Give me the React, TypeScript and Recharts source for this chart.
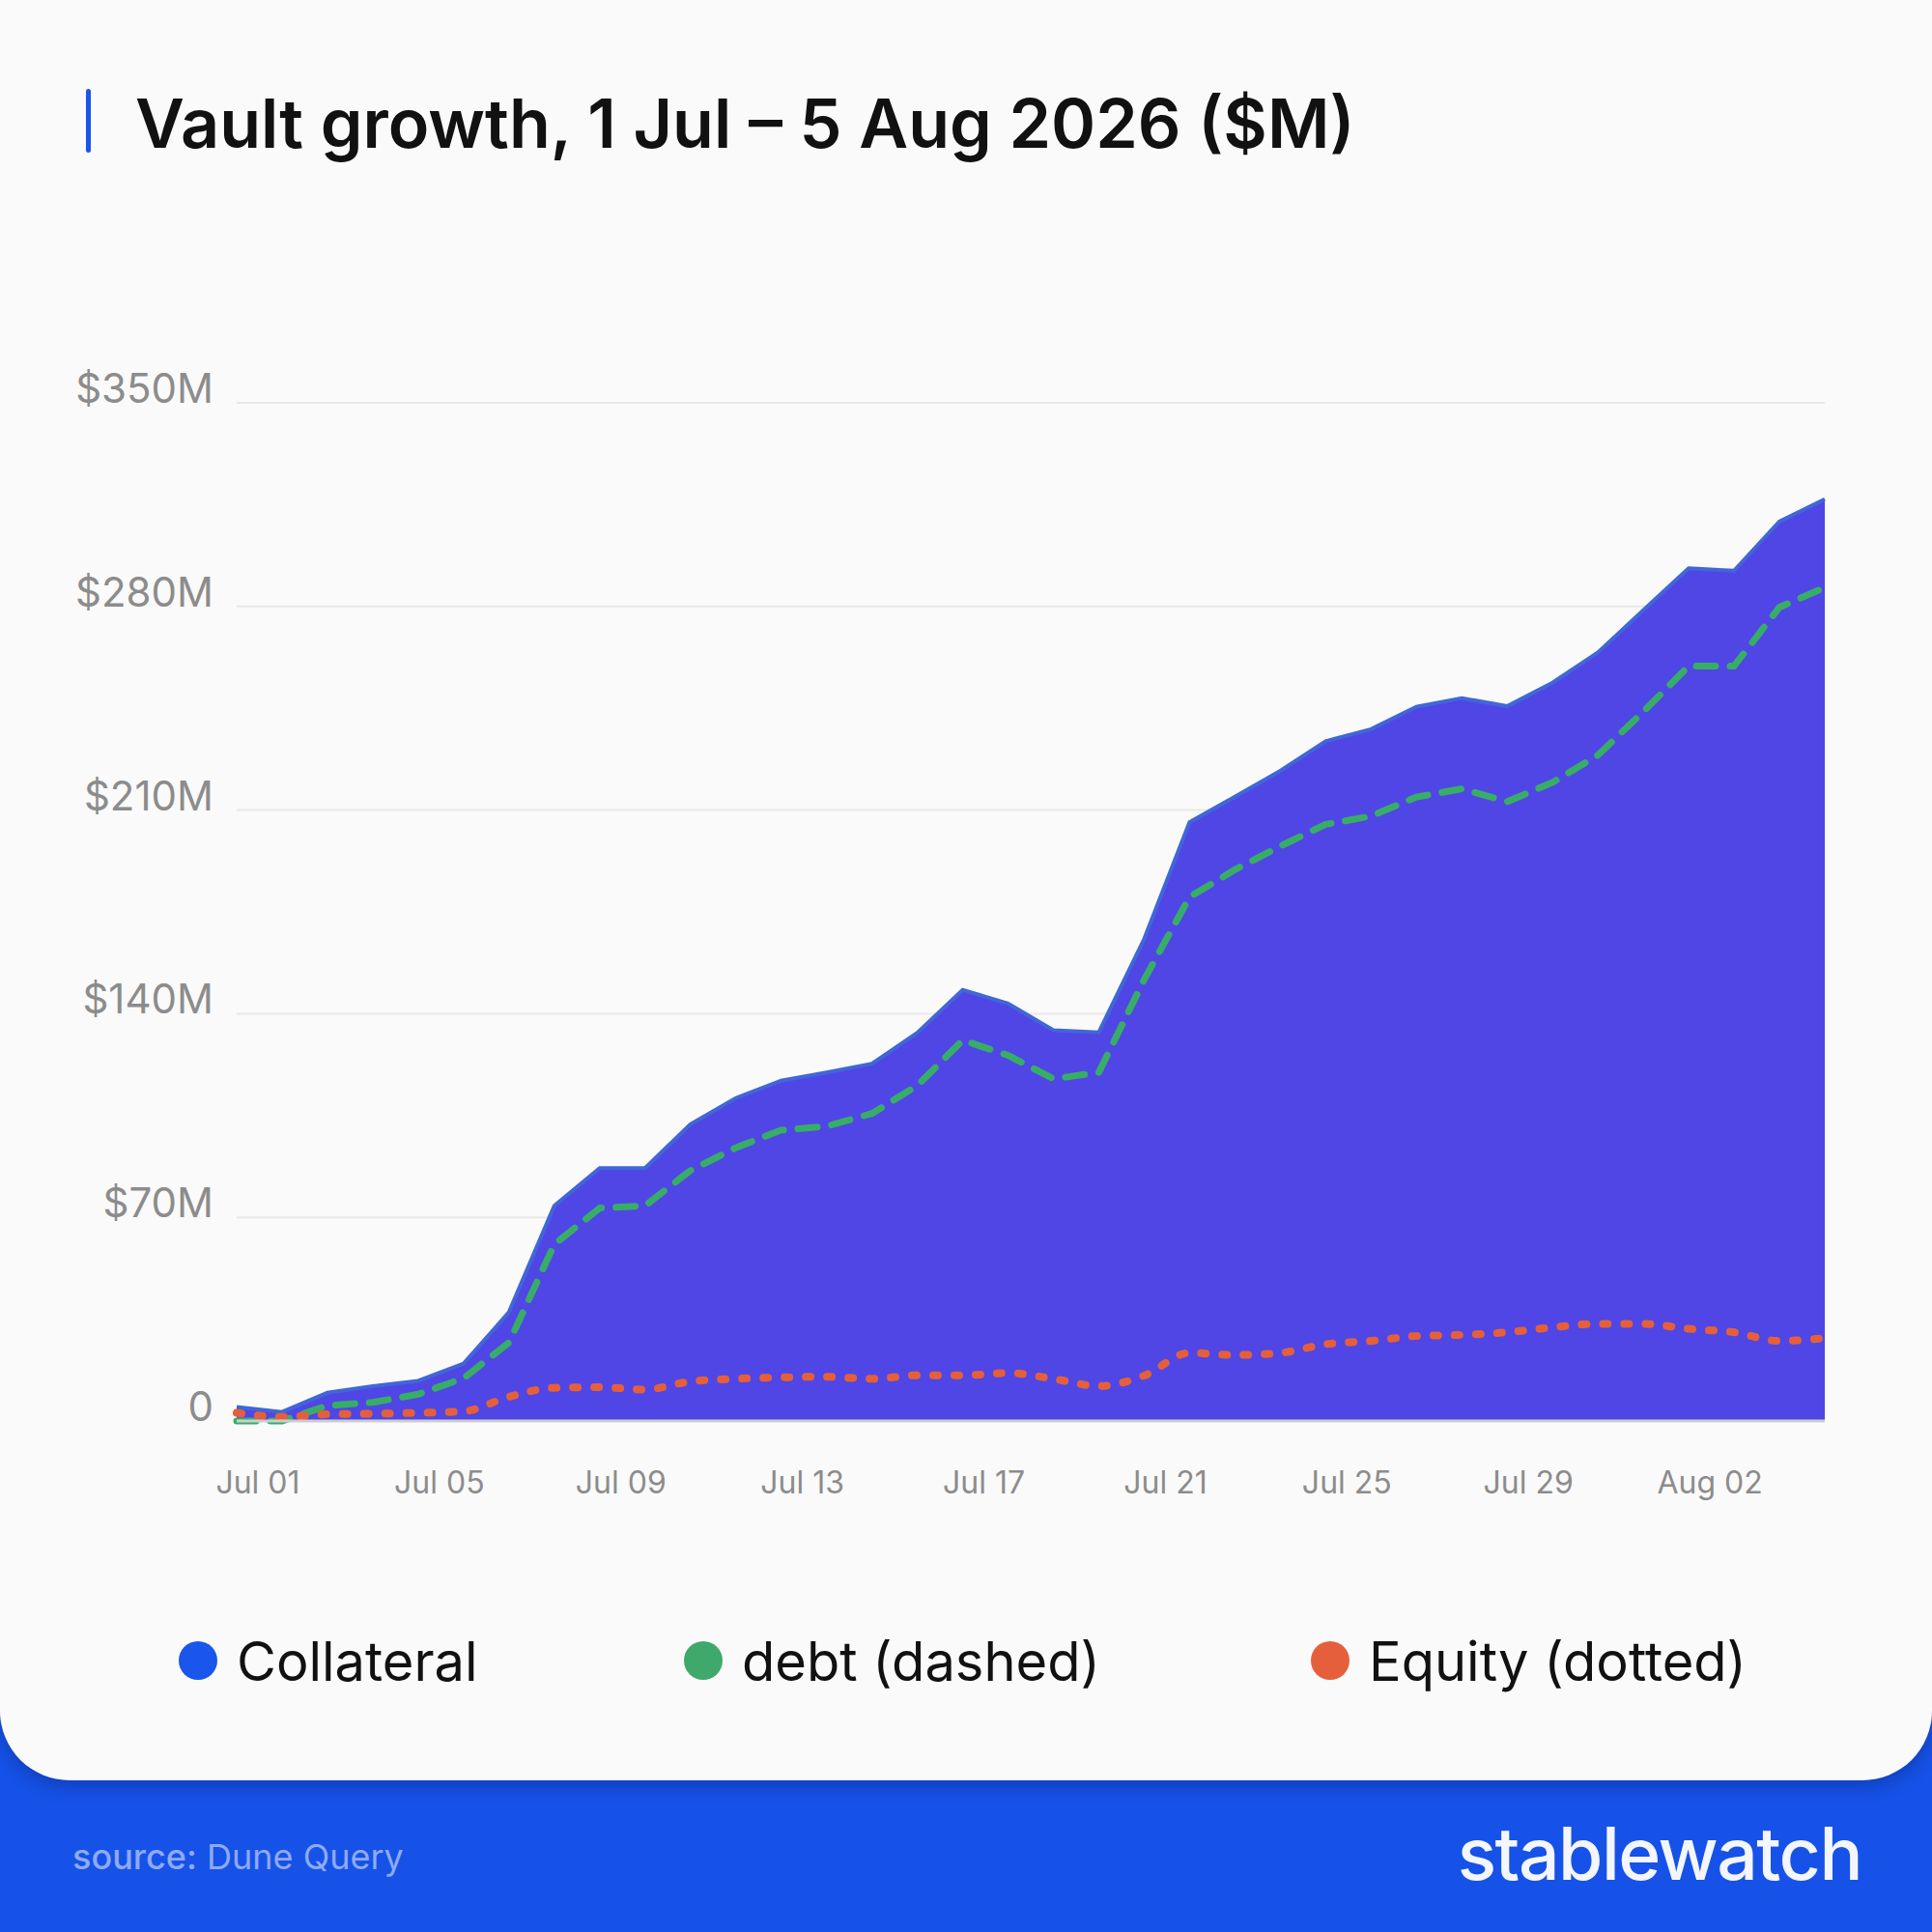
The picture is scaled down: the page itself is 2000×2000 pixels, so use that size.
import React from 'react';
import { ComposedChart, Area, Line, XAxis, YAxis, CartesianGrid } from 'recharts';

const dates = [
  'Jul 01','Jul 02','Jul 03','Jul 04','Jul 05','Jul 06','Jul 07','Jul 08','Jul 09','Jul 10',
  'Jul 11','Jul 12','Jul 13','Jul 14','Jul 15','Jul 16','Jul 17','Jul 18','Jul 19','Jul 20',
  'Jul 21','Jul 22','Jul 23','Jul 24','Jul 25','Jul 26','Jul 27','Jul 28','Jul 29','Jul 30',
  'Jul 31','Aug 01','Aug 02','Aug 03','Aug 04','Aug 05',
];

const collateral = [
  4.8, 3.1, 9.7, 12, 13.8, 19.7, 37.4, 74, 86.9, 86.9,
  102, 111, 117, 119.8, 122.8, 133.4, 148.2, 143.5, 134.3, 133.6,
  165.7, 205.8, 214.6, 223.5, 233.7, 237.8, 245.5, 248.5, 245.7, 253.8,
  264.2, 278.7, 293.1, 292.3, 309.2, 316.9,
];

const debt = [
  0, 0, 5.3, 6.4, 9.2, 14.7, 26.9, 60.7, 73.2, 74,
  86.1, 93.9, 100, 101.3, 105.7, 115.3, 130.9, 125.7, 117.6, 119.8,
  151.7, 180.1, 189.5, 197.6, 205.1, 207.9, 214.5, 217.3, 212.9, 219.5,
  228.9, 243.8, 259.5, 259.5, 279.7, 286.5,
];

const equity = [
  2.8, 1.4, 2.3, 2.5, 2.8, 3.3, 8.3, 11.4, 11.6, 10.8,
  13.6, 14.5, 15, 15.2, 14.5, 15.7, 15.7, 16.5, 14.5, 12,
  15.6, 23.4, 22.7, 23.4, 26.4, 27.5, 29.2, 29.6, 30.5, 32.2,
  33.4, 33.4, 31.7, 30.5, 27.5, 28.5,
];

const xTicks = ['Jul 01','Jul 05','Jul 09','Jul 13','Jul 17','Jul 21','Jul 25','Jul 29','Aug 02'];
const yTicks = [0, 70, 140, 210, 280, 350];
const yTickLabels = ['0', '$70M', '$140M', '$210M', '$280M', '$350M'];

const seriesNames = ['Collateral', 'debt (dashed)', 'Equity (dotted)'];
const seriesColors = ['#1a56ec', '#3fa96b', '#e5603a'];

const data = dates.map((d, i) => ({
  date: d,
  collateral: collateral[i],
  debt: debt[i],
  equity: equity[i],
}));

const FONT = 'Inter, "Noto Sans", sans-serif';

const YTick = (props: any) => {
  const { x, y, payload } = props;
  const idx = yTicks.indexOf(payload.value);
  return (
    <text x={x} y={y} textAnchor="end" fill="#8c8c8c" fontSize={42} fontFamily={FONT}>
      {idx >= 0 ? yTickLabels[idx] : payload.value}
    </text>
  );
};

const XTick = (props: any) => {
  const { x, y, payload } = props;
  return (
    <text x={x + 22} y={y + 75} textAnchor="middle" fill="#8c8c8c" fontSize={32} fontFamily={FONT}>
      {payload.value}
    </text>
  );
};

export default function App() {
  const legendX = [205, 728, 1377];
  return (
    <div style={{ position: 'absolute', left: 0, top: 0, width: 2000, height: 2000, background: '#1652e8', overflow: 'hidden', fontFamily: FONT }}>
      <div style={{ position: 'absolute', left: 0, top: 0, width: 2000, height: 1843, background: '#fafafa', borderBottomLeftRadius: 72, borderBottomRightRadius: 72, boxShadow: '0 6px 18px rgba(0,0,40,0.25)' }} />
      <div style={{ position: 'absolute', left: 0, top: 0 }}>
        <ComposedChart width={2000} height={1600} data={data} margin={{ top: 417, right: 111, left: 0, bottom: 0 }}>
          <CartesianGrid vertical={false} stroke="#e8e8e8" strokeWidth={2} />
          <XAxis
            dataKey="date"
            scale="point"
            padding={{ left: 0, right: 0 }}
            ticks={xTicks}
            height={129}
            tickLine={false}
            tickSize={0}
            tickMargin={0}
            axisLine={{ stroke: '#cdcdcd', strokeWidth: 3 }}
            tick={<XTick />}
            interval={0}
          />
          <YAxis
            domain={[0, 350]}
            ticks={yTicks}
            width={245}
            axisLine={false}
            tickLine={false}
            tickSize={0}
            tickMargin={24}
            tick={<YTick />}
            interval={0}
          />
          <Area
            type="linear"
            dataKey="collateral"
            stroke="#4166d8"
            strokeWidth={4}
            fill="#4f46e5"
            fillOpacity={1}
            dot={false}
            activeDot={false}
            isAnimationActive={false}
          />
          <Line
            type="linear"
            dataKey="debt"
            stroke="#38ad68"
            strokeWidth={7}
            strokeDasharray="20 15"
            strokeLinecap="round"
            dot={false}
            activeDot={false}
            isAnimationActive={false}
          />
          <Line
            type="monotone"
            dataKey="equity"
            stroke="#e5603a"
            strokeWidth={8}
            strokeDasharray="5 17"
            strokeLinecap="round"
            dot={false}
            activeDot={false}
            isAnimationActive={false}
          />
        </ComposedChart>
      </div>
      <svg width={2000} height={2000} style={{ position: 'absolute', left: 0, top: 0, pointerEvents: 'none' }}>
        <rect x={89} y={92} width={5} height={66} rx={2.5} fill="#1a56ec" />
        <text x={140} y={153} fontSize={70} fontWeight={600} fill="#111111" fontFamily={FONT}>
          Vault growth, 1 Jul – 5 Aug 2026 ($M)
        </text>
        {seriesNames.map((n, i) => (
          <g key={n}>
            <circle cx={legendX[i]} cy={1719} r={20} fill={seriesColors[i]} />
            <text x={legendX[i] + 40} y={1740} fontSize={56} fill="#111111" fontFamily={FONT}>
              {n}
            </text>
          </g>
        ))}
        <text x={75} y={1935} fontSize={36} fill="#8eaaf6" fontFamily={FONT}>
          <tspan fontWeight={500}>source:</tspan>
          <tspan> Dune Query</tspan>
        </text>
        <text x={1927} y={1946} textAnchor="end" fontSize={75} fontWeight={500} letterSpacing={-1.5} fill="#f3f6ff" fontFamily={FONT}>
          stablewatch
        </text>
      </svg>
    </div>
  );
}
